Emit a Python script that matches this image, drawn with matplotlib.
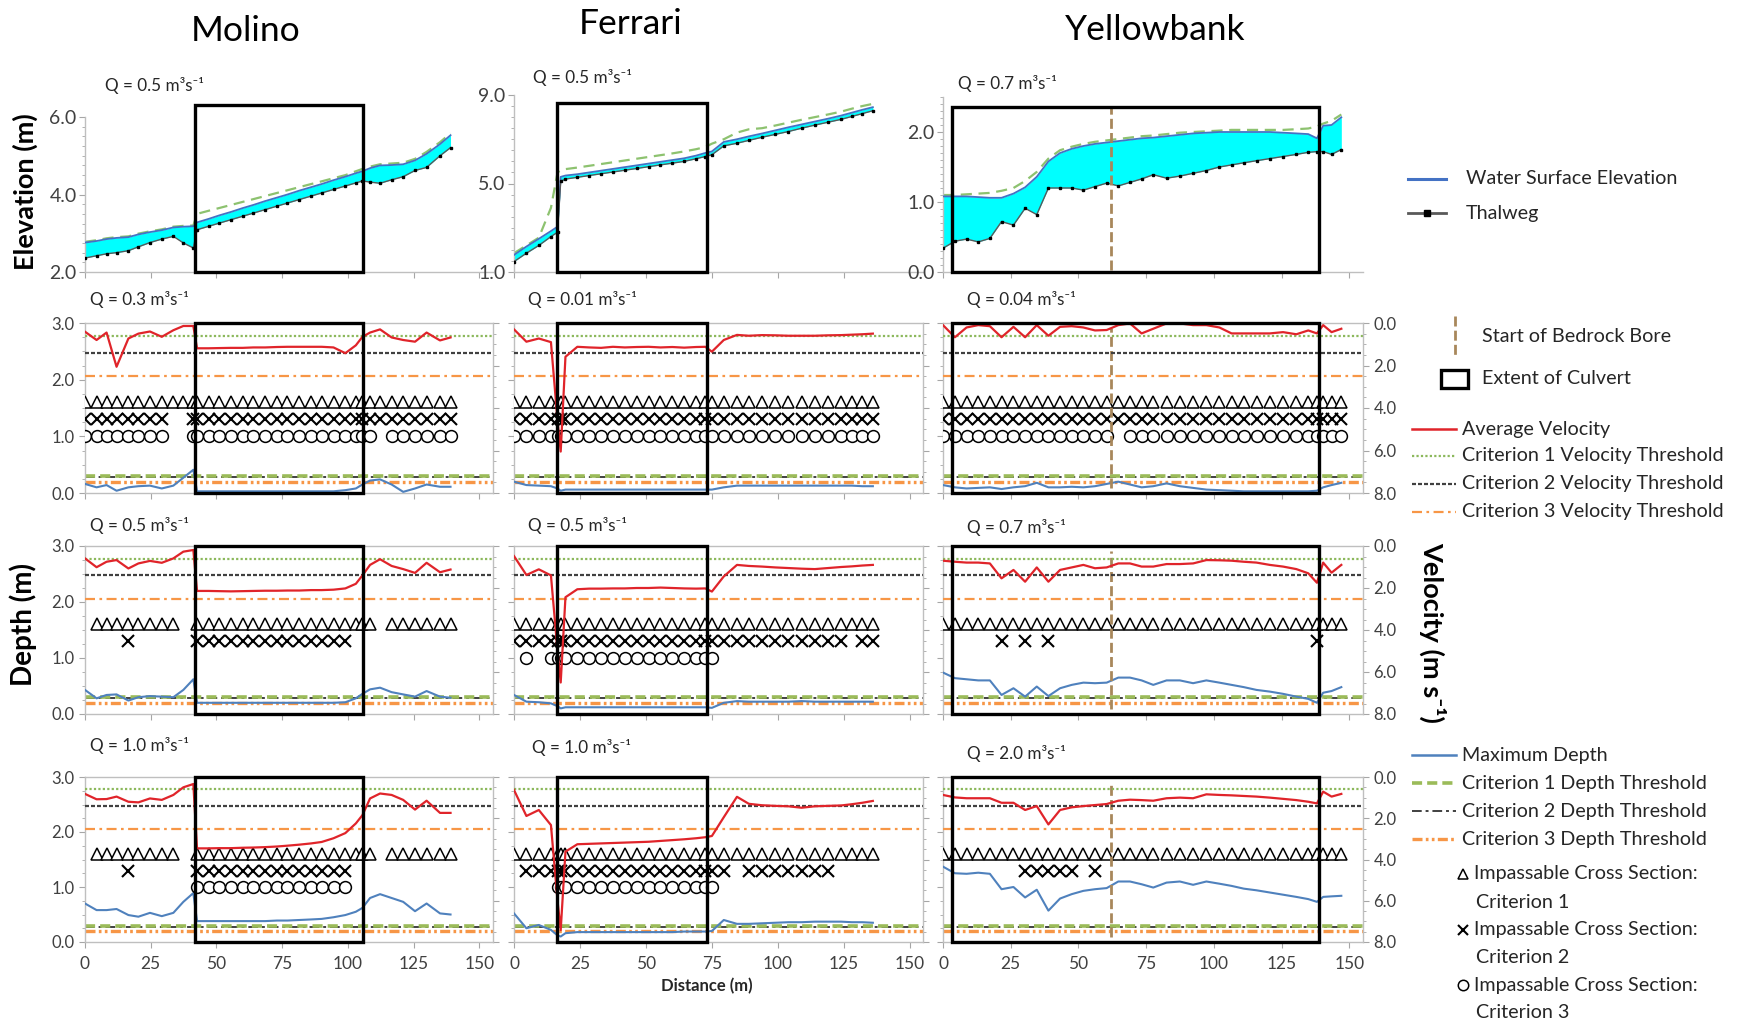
import matplotlib
matplotlib.use("Agg")
import matplotlib.pyplot as plt
import matplotlib.transforms as mtransforms
from matplotlib.patches import Rectangle
from matplotlib.ticker import MultipleLocator, FixedLocator, FormatStrFormatter

plt.rcParams['font.family'] = ['Lato', 'DejaVu Sans']

# ------------------------------------------------------------------ data
SITES = ["Molino", "Ferrari", "Yellowbank"]

DIST_MOL = [0, 4.4, 8.2, 12, 16.5, 20.3, 24.7, 29.2, 33.6, 37.4, 41.2, 42.6, 47, 51, 55.5,
            60, 64, 68.5, 73, 77, 81.5, 86, 90, 94.5, 99, 103, 105.5, 108.4, 112.2, 116.6,
            121, 125.5, 129.9, 135, 139]
DIST_FER = [0, 4.7, 9.4, 14, 16.5, 17.7, 19.5, 24, 28.5, 33, 37.5, 42, 46.5, 51, 55.5, 60,
            64.5, 69, 72.5, 75, 79.5, 84.5, 89, 94, 99, 104, 109, 114, 119, 124, 128, 132, 136]
DIST_YEL = [0, 4.4, 8.7, 13, 17.3, 21.6, 26, 30.3, 34.6, 38.9, 43.2, 47.5, 51.8, 56.1, 60.4,
            64.7, 69, 73.3, 77.6, 82.5, 87.4, 92.3, 97.2, 102, 106.5, 111, 115.7, 120.6, 125.5,
            130.4, 134.8, 138, 140.3, 143.4, 147]

CULVERT_MOL = (41.8, 105.8)
CULVERT_FER = (16.2, 73.2)
CULVERT_YEL = (3.4, 138.7)
BEDROCK_YEL = 62

# elevation row (m)
WSE_MOL = [2.76, 2.80, 2.85, 2.88, 2.90, 2.97, 3.03, 3.08, 3.15, 3.17, 3.18, 3.28, 3.37, 3.46,
           3.55, 3.65, 3.73, 3.83, 3.92, 4.00, 4.10, 4.19, 4.27, 4.37, 4.46, 4.55, 4.60, 4.68,
           4.75, 4.76, 4.78, 4.88, 5.05, 5.30, 5.53]
THAL_MOL = [2.36, 2.42, 2.47, 2.50, 2.55, 2.65, 2.76, 2.85, 2.92, 2.75, 2.62, 3.09, 3.18, 3.26,
            3.35, 3.44, 3.52, 3.61, 3.70, 3.78, 3.87, 3.96, 4.04, 4.13, 4.22, 4.30, 4.35, 4.32,
            4.29, 4.38, 4.46, 4.62, 4.70, 5.00, 5.21]
ALT_MOL = [2.78, 2.82, 2.87, 2.90, 2.92, 2.99, 3.05, 3.10, 3.17, 3.19, 3.20, 3.50, 3.58, 3.65,
           3.73, 3.81, 3.88, 3.96, 4.04, 4.11, 4.19, 4.27, 4.34, 4.42, 4.50, 4.60, 4.66, 4.72,
           4.78, 4.80, 4.82, 4.92, 5.10, 5.35, 5.58]

WSE_FER = [1.77, 2.15, 2.50, 2.85, 3.05, 5.30, 5.36, 5.42, 5.50, 5.58, 5.66, 5.74, 5.82, 5.90,
           5.98, 6.06, 6.14, 6.26, 6.38, 6.45, 6.88, 7.00, 7.13, 7.26, 7.40, 7.54, 7.67, 7.80,
           7.93, 8.07, 8.20, 8.33, 8.45]
THAL_FER = [1.47, 1.85, 2.20, 2.60, 2.80, 5.10, 5.20, 5.28, 5.36, 5.44, 5.52, 5.60, 5.68, 5.76,
            5.84, 5.92, 6.00, 6.12, 6.22, 6.30, 6.70, 6.82, 6.95, 7.09, 7.22, 7.35, 7.50, 7.64,
            7.77, 7.90, 8.03, 8.16, 8.29]
ALT_FER = [1.85, 2.20, 2.55, 3.90, 5.50, 5.60, 5.65, 5.72, 5.80, 5.88, 5.96, 6.04, 6.12, 6.20,
           6.28, 6.36, 6.45, 6.55, 6.65, 6.80, 7.00, 7.30, 7.45, 7.50, 7.62, 7.75, 7.88, 8.00,
           8.12, 8.25, 8.38, 8.50, 8.60]

WSE_YEL = [1.08, 1.08, 1.08, 1.07, 1.06, 1.06, 1.12, 1.21, 1.36, 1.58, 1.70, 1.76, 1.80, 1.83,
           1.85, 1.87, 1.89, 1.91, 1.92, 1.94, 1.96, 1.98, 1.99, 2.00, 2.00, 2.00, 2.00, 2.00,
           1.99, 1.98, 1.97, 1.91, 2.09, 2.10, 2.21]
THAL_YEL = [0.34, 0.44, 0.47, 0.43, 0.48, 0.72, 0.67, 0.91, 0.82, 1.20, 1.20, 1.20, 1.17, 1.22,
            1.27, 1.23, 1.28, 1.33, 1.39, 1.34, 1.37, 1.41, 1.45, 1.50, 1.53, 1.56, 1.59, 1.62,
            1.65, 1.68, 1.71, 1.72, 1.72, 1.68, 1.75]
ALT_YEL = [1.10, 1.10, 1.11, 1.12, 1.13, 1.16, 1.20, 1.30, 1.43, 1.62, 1.74, 1.79, 1.83, 1.86,
           1.88, 1.90, 1.92, 1.94, 1.95, 1.97, 1.99, 2.00, 2.01, 2.02, 2.03, 2.03, 2.03, 2.03,
           2.03, 2.04, 2.05, 2.08, 2.12, 2.16, 2.25]

# discharges
Q_TOP = ["0.5", "0.5", "0.7"]
Q_MOL = ["0.3", "0.5", "1.0"]
Q_FER = ["0.01", "0.5", "1.0"]
Q_YEL = ["0.04", "0.7", "2.0"]

# average velocity (m/s) per flow
VEL_MOL_1 = [0.41, 0.80, 0.45, 2.06, 0.73, 0.50, 0.40, 0.65, 0.34, 0.14, 0.14, 1.19, 1.19, 1.18,
             1.17, 1.17, 1.15, 1.15, 1.13, 1.12, 1.12, 1.12, 1.12, 1.15, 1.42, 1.05, 0.65, 0.45,
             0.30, 0.68, 0.80, 0.88, 0.45, 0.82, 0.68]
VEL_MOL_2 = [0.59, 1.01, 0.75, 0.67, 1.07, 0.83, 0.71, 0.80, 0.59, 0.27, 0.19, 2.14, 2.14, 2.15,
             2.16, 2.15, 2.14, 2.13, 2.13, 2.12, 2.12, 2.10, 2.10, 2.08, 2.02, 1.80, 1.40, 0.90,
             0.63, 0.95, 1.10, 1.28, 0.80, 1.25, 1.12]
VEL_MOL_3 = [0.82, 1.08, 1.07, 0.95, 1.20, 1.23, 1.04, 1.11, 0.87, 0.50, 0.34, 3.46, 3.46, 3.45,
             3.45, 3.43, 3.42, 3.40, 3.37, 3.33, 3.28, 3.22, 3.15, 2.97, 2.72, 2.25, 1.85, 1.04,
             0.80, 0.87, 1.11, 1.58, 1.15, 1.74, 1.74]
VEL_FER_1 = [0.30, 0.88, 0.73, 0.90, 4.60, 6.05, 1.59, 1.12, 1.15, 1.17, 1.12, 1.15, 1.13, 1.12,
             1.15, 1.13, 1.16, 1.13, 1.12, 1.35, 0.80, 0.56, 0.60, 0.57, 0.58, 0.60, 0.60, 0.60,
             0.58, 0.57, 0.55, 0.53, 0.50]
VEL_FER_2 = [0.48, 1.38, 1.11, 1.40, 5.00, 6.50, 2.44, 2.06, 2.03, 2.03, 2.02, 2.02, 2.00, 2.00,
             1.98, 2.00, 2.02, 2.03, 2.02, 2.17, 1.45, 0.90, 0.95, 0.98, 1.02, 1.05, 1.08, 1.10,
             1.05, 1.00, 0.97, 0.93, 0.90]
VEL_FER_3 = [0.63, 1.89, 1.60, 2.33, 6.00, 7.42, 3.62, 3.26, 3.24, 3.22, 3.20, 3.18, 3.16, 3.14,
             3.10, 3.06, 3.02, 2.97, 2.92, 2.86, 1.95, 0.96, 1.30, 1.37, 1.40, 1.42, 1.49, 1.42,
             1.40, 1.38, 1.32, 1.25, 1.16]
VEL_YEL_1 = [0.10, 0.67, 0.21, 0.10, 0.15, 0.67, 0.18, 0.67, 0.10, 0.60, 0.18, 0.15, 0.21, 0.35,
             0.33, 0.10, 0.02, 0.49, 0.27, 0.02, 0.02, 0.10, 0.10, 0.21, 0.49, 0.49, 0.49, 0.49,
             0.43, 0.53, 0.35, 0.49, 0.10, 0.43, 0.27]
VEL_YEL_2 = [0.70, 0.75, 0.79, 0.79, 0.83, 1.54, 1.14, 1.70, 1.02, 1.70, 1.14, 1.02, 0.90, 1.06,
             1.02, 0.83, 0.83, 0.98, 0.98, 0.86, 0.86, 0.83, 0.67, 0.68, 0.70, 0.75, 0.79, 0.90,
             0.98, 1.10, 1.30, 1.75, 0.79, 1.27, 0.90]
VEL_YEL_3 = [0.87, 0.99, 1.03, 1.03, 1.03, 1.25, 1.25, 1.60, 1.41, 2.30, 1.60, 1.47, 1.41, 1.36,
             1.31, 1.15, 1.10, 1.12, 1.15, 1.03, 1.00, 1.03, 0.84, 0.87, 0.89, 0.92, 0.95, 1.00,
             1.06, 1.12, 1.20, 1.28, 0.71, 0.95, 0.82]

# maximum depth (m) per flow
DEP_MOL_1 = [0.16, 0.10, 0.14, 0.04, 0.10, 0.12, 0.13, 0.08, 0.13, 0.27, 0.41, 0.03, 0.03, 0.03,
             0.03, 0.03, 0.03, 0.03, 0.03, 0.03, 0.03, 0.03, 0.03, 0.03, 0.05, 0.08, 0.15, 0.22,
             0.24, 0.15, 0.02, 0.08, 0.15, 0.11, 0.11]
DEP_MOL_2 = [0.43, 0.28, 0.34, 0.35, 0.24, 0.30, 0.32, 0.31, 0.30, 0.43, 0.62, 0.20, 0.20, 0.20,
             0.20, 0.20, 0.20, 0.20, 0.20, 0.20, 0.20, 0.20, 0.20, 0.20, 0.21, 0.28, 0.36, 0.44,
             0.47, 0.39, 0.35, 0.31, 0.41, 0.31, 0.29]
DEP_MOL_3 = [0.70, 0.58, 0.58, 0.60, 0.49, 0.46, 0.53, 0.47, 0.53, 0.73, 0.89, 0.38, 0.38, 0.38,
             0.38, 0.38, 0.38, 0.38, 0.39, 0.39, 0.40, 0.41, 0.42, 0.45, 0.49, 0.55, 0.62, 0.80,
             0.87, 0.80, 0.73, 0.56, 0.70, 0.52, 0.50]
DEP_FER_1 = [0.20, 0.14, 0.13, 0.12, 0.08, 0.04, 0.06, 0.06, 0.06, 0.06, 0.06, 0.06, 0.06, 0.06,
             0.06, 0.06, 0.06, 0.06, 0.06, 0.06, 0.10, 0.13, 0.13, 0.13, 0.13, 0.13, 0.13, 0.13,
             0.13, 0.13, 0.13, 0.12, 0.12]
DEP_FER_2 = [0.34, 0.22, 0.21, 0.19, 0.14, 0.10, 0.12, 0.12, 0.12, 0.12, 0.12, 0.12, 0.12, 0.12,
             0.12, 0.12, 0.12, 0.12, 0.12, 0.11, 0.20, 0.23, 0.22, 0.22, 0.22, 0.22, 0.23, 0.22,
             0.22, 0.22, 0.22, 0.22, 0.22]
DEP_FER_3 = [0.52, 0.25, 0.31, 0.22, 0.12, 0.10, 0.16, 0.18, 0.18, 0.18, 0.18, 0.18, 0.18, 0.18,
             0.18, 0.18, 0.19, 0.19, 0.19, 0.20, 0.40, 0.33, 0.33, 0.34, 0.35, 0.36, 0.36, 0.37,
             0.37, 0.37, 0.36, 0.36, 0.35]
DEP_YEL_1 = [0.14, 0.10, 0.08, 0.09, 0.10, 0.07, 0.10, 0.12, 0.18, 0.10, 0.10, 0.11, 0.10, 0.12,
             0.16, 0.20, 0.15, 0.10, 0.12, 0.17, 0.12, 0.09, 0.06, 0.05, 0.04, 0.03, 0.03, 0.03,
             0.03, 0.03, 0.03, 0.04, 0.10, 0.14, 0.18]
DEP_YEL_2 = [0.74, 0.64, 0.62, 0.60, 0.60, 0.34, 0.46, 0.31, 0.49, 0.32, 0.46, 0.52, 0.56, 0.55,
             0.56, 0.65, 0.65, 0.60, 0.52, 0.60, 0.60, 0.55, 0.60, 0.56, 0.52, 0.48, 0.43, 0.40,
             0.36, 0.31, 0.27, 0.20, 0.38, 0.41, 0.48]
DEP_YEL_3 = [1.37, 1.25, 1.24, 1.26, 1.24, 0.96, 1.00, 0.81, 0.95, 0.57, 0.79, 0.87, 0.93, 0.96,
             0.98, 1.10, 1.10, 1.05, 0.99, 1.08, 1.10, 1.04, 1.10, 1.06, 1.02, 0.97, 0.94, 0.90,
             0.86, 0.82, 0.78, 0.73, 0.82, 0.83, 0.84]

# impassable reaches (distance intervals, m) for each flow
IMP1_MOL = [[(0, 140)], [(4, 34), (42, 109), (116, 140)], [(4, 34), (42, 109), (116, 140)]]
IMP2_MOL = [[(0, 30), (40, 140)], [(16, 17), (42, 100)], [(16, 17), (42, 100)]]
IMP3_MOL = [[(0, 30), (40, 109), (114, 140)], [], [(42, 100)]]
IMP1_FER = [[(0, 137)], [(0, 137)], [(0, 137)]]
IMP2_FER = [[(0, 137)], [(0, 125), (130, 137)], [(3, 80), (88, 120)]]
IMP3_FER = [[(0, 137)], [(4, 5), (13, 76)], [(16, 76)]]
IMP1_YEL = [[(0, 148)], [(0, 148)], [(0, 148)]]
IMP2_YEL = [[(0, 148)], [(21, 22), (30, 31), (38, 39.5), (137, 139)], [(30, 49), (56, 57)]]
IMP3_YEL = [[(0, 62), (67, 148)], [], []]

VEL_THRESH = [0.6, 1.4, 2.5]     # criteria 1-3 (m/s)
DEPTH_THRESH = [0.3, 0.28, 0.2]  # criteria 1-3 (m)
MARK_LEVEL = [1.6, 1.3, 1.0]     # plotting level of the impassable markers (depth axis)

DATA = {
    "Molino": dict(x=DIST_MOL, culvert=CULVERT_MOL, wse=WSE_MOL, thal=THAL_MOL, alt=ALT_MOL,
                   q=Q_MOL, vel=[VEL_MOL_1, VEL_MOL_2, VEL_MOL_3],
                   dep=[DEP_MOL_1, DEP_MOL_2, DEP_MOL_3], imp=[IMP1_MOL, IMP2_MOL, IMP3_MOL]),
    "Ferrari": dict(x=DIST_FER, culvert=CULVERT_FER, wse=WSE_FER, thal=THAL_FER, alt=ALT_FER,
                    q=Q_FER, vel=[VEL_FER_1, VEL_FER_2, VEL_FER_3],
                    dep=[DEP_FER_1, DEP_FER_2, DEP_FER_3], imp=[IMP1_FER, IMP2_FER, IMP3_FER]),
    "Yellowbank": dict(x=DIST_YEL, culvert=CULVERT_YEL, wse=WSE_YEL, thal=THAL_YEL, alt=ALT_YEL,
                       q=Q_YEL, vel=[VEL_YEL_1, VEL_YEL_2, VEL_YEL_3],
                       dep=[DEP_YEL_1, DEP_YEL_2, DEP_YEL_3], imp=[IMP1_YEL, IMP2_YEL, IMP3_YEL]),
}

# ------------------------------------------------------------------ style / layout
W, H = 1741, 1024
SPINE = '#BFBFBF'
TICKC = '#A6A6A6'
LABC = '#404040'
TXT = '#262626'
C_WSE = '#4472C4'
C_FILL = '#00FFFF'
C_THAL = '#595959'
C_ALT = '#8DC26F'
C_VEL = '#E0242A'
C_DEP = '#4F81BD'
C_GRN = '#8CB85C'
C_BLK = '#404040'
C_ORG = '#F79646'
C_BED = '#A8875B'

VEL_STYLE = [dict(color=C_GRN, lw=1.6, ls=(0, (1, 1))),
             dict(color=C_BLK, lw=1.6, ls=(0, (1.8, 0.9))),
             dict(color=C_ORG, lw=1.6, ls=(0, (4.5, 2, 1.2, 2)))]
DEP_STYLE = [dict(color='#9BBB59', lw=2.6, ls=(0, (2.8, 1.4))),
             dict(color=C_BLK, lw=1.4, ls=(0, (5, 2, 1.5, 2))),
             dict(color=C_ORG, lw=2.4, ls=(0, (3, 1, 0.8, 1, 0.8, 1)))]
MARK_STYLE = [dict(marker='^', ms=9, mfc='white', mec='black', mew=1.1),
              dict(marker='x', ms=8, mec='black', mew=1.5),
              dict(marker='o', ms=8.5, mfc='white', mec='black', mew=1.1)]

COL_PX = [(85, 492.6), (514, 923), (943, 1363)]
TOP_PX = [(117, 272), (95, 272), (97, 272)]
ROW_PX = [(323, 493), (546, 714), (777, 942)]
TOP_YLIM = [(2, 6), (1, 9), (0, 2.5)]
TOP_YTICK = [[2, 4, 6], [1, 5, 9], [0, 1, 2]]
TOP_YMINOR = [0.25, 0.5, 0.1]
BOX_TOP_PX = [105, 103, 107]
QPOS_TOP = [(105, 86), (533, 77), (958, 83)]
QPOS_ROW = [[(90, 300), (528, 300), (967, 300)],
            [(90, 525), (528, 525), (967, 528)],
            [(90, 745), (532, 747), (967, 753)]]
TITLE_POS = [(246, 31), (631, 24), (1155, 30)]
XMAX = 155

fig = plt.figure(figsize=(W / 100, H / 100), dpi=100)
fig.patch.set_facecolor('white')

ov = fig.add_axes([0, 0, 1, 1])
ov.set_xlim(0, W)
ov.set_ylim(H, 0)
ov.axis('off')


def add_px_axes(l, t, r, b):
    return fig.add_axes([l / W, 1 - b / H, (r - l) / W, (b - t) / H])


def culvert_box(ax, x0, x1, top_px, bot_px):
    tr = mtransforms.blended_transform_factory(ax.transData, fig.transFigure)
    rect = Rectangle((x0, 1 - bot_px / H), x1 - x0, (bot_px - top_px) / H, transform=tr,
                     fill=False, ec='black', lw=2.4, zorder=30, clip_on=False)
    fig.add_artist(rect)


def style_axes(ax, size=12):
    for s in ax.spines.values():
        s.set_color(SPINE)
        s.set_linewidth(1.0)
    ax.tick_params(which='both', direction='out', colors=TICKC, labelcolor=LABC,
                   labelsize=size)
    ax.tick_params(which='major', length=4, width=0.8)
    ax.tick_params(which='minor', length=2, width=0.6)


def q_text(pos, q):
    ov.text(pos[0], pos[1], f"Q = {q} m³s⁻¹", ha='left', va='center', fontsize=12.3, color=TXT)


def in_reach(xs, reaches):
    return [x for x in xs if any(a <= x <= b for a, b in reaches)]


for j, site in enumerate(SITES):
    d = DATA[site]
    xs = d['x']
    l, r = COL_PX[j]

    # ---------------- elevation profile
    t, b = TOP_PX[j]
    ax = add_px_axes(l, t, r, b)
    ax.fill_between(xs, d['thal'], d['wse'], color=C_FILL, lw=0, zorder=1)
    ax.plot(xs, d['alt'], color=C_ALT, lw=1.6, ls=(0, (5, 3)), zorder=2)
    ax.plot(xs, d['wse'], color=C_WSE, lw=1.3, zorder=3)
    ax.plot(xs, d['thal'], color=C_THAL, lw=1.0, marker='s', ms=2.0, mfc='black',
            mec='black', zorder=3)
    ax.set_xlim(0, XMAX)
    ax.set_ylim(*TOP_YLIM[j])
    style_axes(ax, size=14)
    ax.spines['top'].set_visible(False)
    ax.spines['right'].set_visible(False)
    ax.xaxis.set_major_locator(MultipleLocator(25))
    ax.tick_params(axis='x', labelbottom=False)
    ax.tick_params(axis='y', pad=2)
    ax.yaxis.set_major_locator(FixedLocator(TOP_YTICK[j]))
    ax.yaxis.set_minor_locator(MultipleLocator(TOP_YMINOR[j]))
    ax.yaxis.set_major_formatter(FormatStrFormatter('%.1f'))
    culvert_box(ax, d['culvert'][0], d['culvert'][1], BOX_TOP_PX[j], b)
    if site == "Yellowbank":
        ax.axvline(BEDROCK_YEL, ymin=0.01, ymax=0.94, color=C_BED, lw=2,
                   ls=(0, (3.6, 1.5)), zorder=5)
    q_text(QPOS_TOP[j], Q_TOP[j])

    # ---------------- depth / velocity panels
    for i in range(3):
        t, b = ROW_PX[i]
        ax = add_px_axes(l, t, r, b)
        ax2 = ax.twinx()

        for k in range(3):
            ax.axhline(DEPTH_THRESH[2 - k], **DEP_STYLE[2 - k], zorder=2)
        for k in range(3):
            sel = in_reach(xs, d['imp'][k][i])
            if sel:
                ax.plot(sel, [MARK_LEVEL[k]] * len(sel), ls='none', zorder=4, **MARK_STYLE[k])
        ax.plot(xs, d['dep'][i], color=C_DEP, lw=1.5, zorder=3)

        for k in range(3):
            ax2.axhline(VEL_THRESH[k], **VEL_STYLE[k], zorder=2)
        ax2.plot(xs, d['vel'][i], color=C_VEL, lw=1.6, zorder=3)

        ax.set_xlim(0, XMAX)
        ax.set_ylim(0, 3)
        ax2.set_ylim(8, 0)
        style_axes(ax)
        style_axes(ax2)
        ax.spines['right'].set_visible(False)
        for s in ('left', 'top', 'bottom'):
            ax2.spines[s].set_visible(False)
        ax.xaxis.set_major_locator(MultipleLocator(25))
        ax.yaxis.set_major_locator(FixedLocator([0, 1, 2, 3]))
        ax.yaxis.set_minor_locator(MultipleLocator(0.25))
        ax.yaxis.set_major_formatter(FormatStrFormatter('%.1f'))
        ax2.yaxis.set_major_locator(FixedLocator([0, 2, 4, 6, 8]))
        ax2.yaxis.set_minor_locator(MultipleLocator(0.5))
        ax2.yaxis.set_major_formatter(FormatStrFormatter('%.1f'))
        ax.tick_params(axis='x', labelsize=12.5, pad=6)
        if j != 0:
            ax.tick_params(axis='y', labelleft=False)
        if j != 2:
            ax2.tick_params(axis='y', labelright=False)
        if i != 2:
            ax.tick_params(axis='x', labelbottom=False)

        culvert_box(ax, d['culvert'][0], d['culvert'][1], t, b)
        if site == "Yellowbank":
            ax.axvline(BEDROCK_YEL, ymin=0.03, ymax=0.97, color=C_BED, lw=2,
                       ls=(0, (3.6, 1.5)), zorder=5)
        q_text(QPOS_ROW[i][j], d['q'][i])

    ov.text(TITLE_POS[j][0], TITLE_POS[j][1], site, ha='center', va='center', fontsize=25.5,
            color='black')

# ------------------------------------------------------------------ axis titles
ov.text(25, 192, "Elevation (m)", rotation=90, ha='center', va='center', fontsize=19.5,
        fontweight='bold', color='black')
ov.text(23, 624, "Depth (m)", rotation=90, ha='center', va='center', fontsize=20,
        fontweight='bold', color='black')
ov.text(1433, 632, "Velocity (m s⁻¹)", rotation=-90, ha='center', va='center', fontsize=19.5,
        fontweight='bold', color='black')
ov.text(707, 986, "Distance (m)", ha='center', va='center', fontsize=12,
        fontweight='bold', color=TXT)

# ------------------------------------------------------------------ legend
LFS = 14.2


def leg_text(x, y, s):
    ov.text(x, y, s, ha='left', va='center', fontsize=LFS, color=TXT)


ov.plot([1408, 1446], [179, 179], color=C_WSE, lw=2.2)
leg_text(1466, 179, "Water Surface Elevation")
ov.plot([1408, 1446], [213, 213], color=C_THAL, lw=2.0)
ov.plot([1427], [213], marker='s', ms=4, color='black')
leg_text(1466, 213, "Thalweg")
ov.plot([1455, 1455], [316, 355], color=C_BED, lw=2, ls=(0, (3.6, 1.5)))
leg_text(1482, 336, "Start of Bedrock Bore")
ov.add_patch(Rectangle((1441, 370), 27, 18, fill=False, ec='black', lw=2.4))
leg_text(1482, 379, "Extent of Culvert")

ov.plot([1412, 1456], [429, 429], color=C_VEL, lw=1.8)
leg_text(1462, 429, "Average Velocity")
for k, lab in enumerate(["Criterion 1 Velocity Threshold", "Criterion 2 Velocity Threshold",
                         "Criterion 3 Velocity Threshold"]):
    y = 456 + 28 * k
    ov.plot([1412, 1456], [y, y], **VEL_STYLE[k])
    leg_text(1462, y, lab)

ov.plot([1412, 1456], [755, 755], color=C_DEP, lw=1.8)
leg_text(1462, 755, "Maximum Depth")
for k, lab in enumerate(["Criterion 1 Depth Threshold", "Criterion 2 Depth Threshold",
                         "Criterion 3 Depth Threshold"]):
    y = 783 + 28 * k
    ov.plot([1412, 1456], [y, y], **DEP_STYLE[k])
    leg_text(1462, y, lab)

for k in range(3):
    y = 874 + 55.5 * k
    st = dict(MARK_STYLE[k])
    st['ms'] = 7.5
    ov.plot([1463], [y], ls='none', **st)
    leg_text(1474, y, "Impassable Cross Section:")
    leg_text(1476, y + 28, f"Criterion {k + 1}")

fig.savefig("out.png", dpi=100, facecolor='white')
